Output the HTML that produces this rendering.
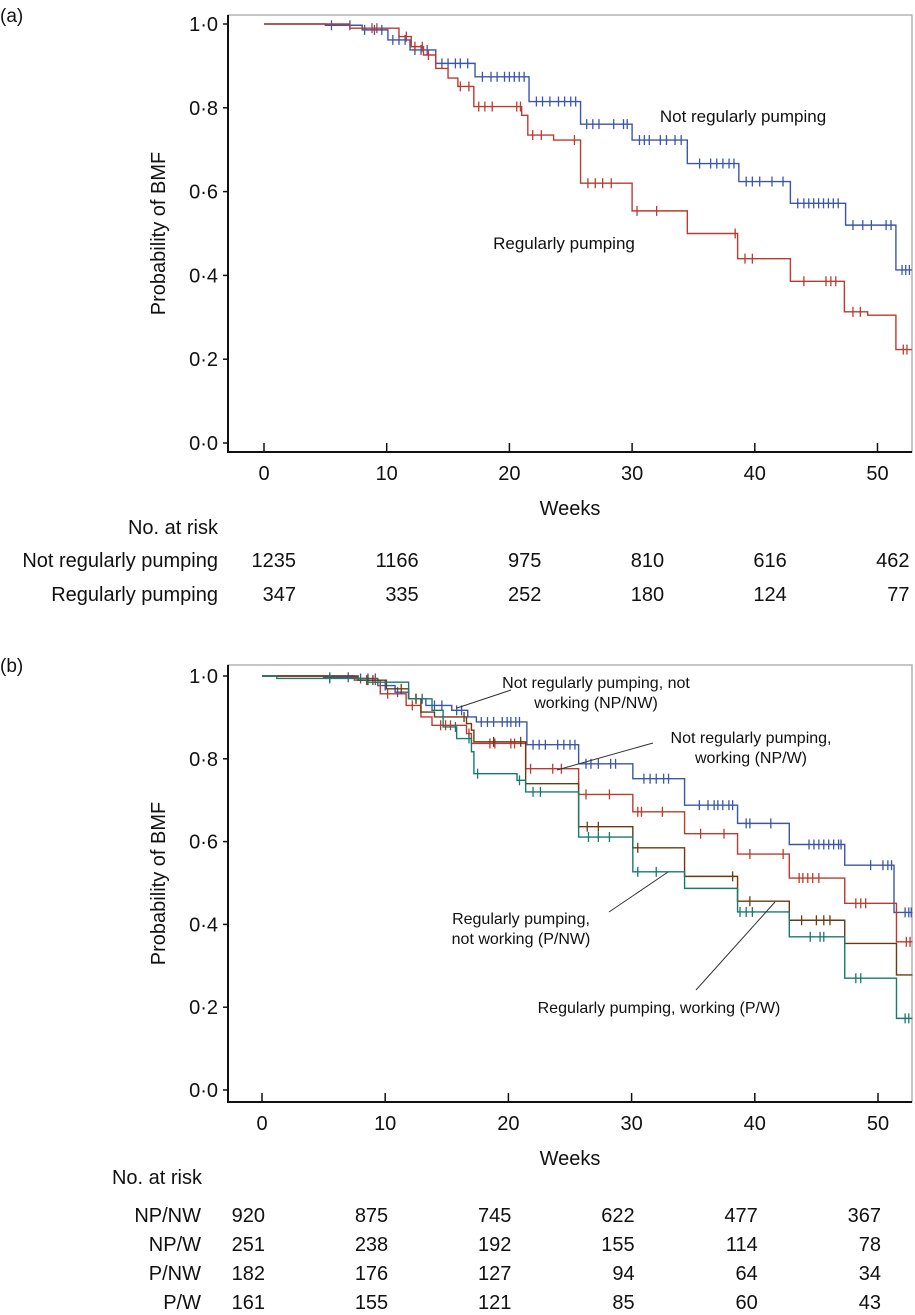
<!DOCTYPE html>
<html><head><meta charset="utf-8">
<style>
html,body{margin:0;padding:0;background:#fff;}
svg{display:block;font-family:"Liberation Sans",Arial,sans-serif;}
</style></head>
<body>
<svg id="fig" width="915" height="1315" viewBox="0 0 915 1315" xmlns="http://www.w3.org/2000/svg"></svg>
<script>
// ---------- Panel (a) data ----------
const weekTicks = [0,10,20,30,40,50];
const probTicks = [0,0.2,0.4,0.6,0.8,1.0];
const probTickLabels = ["0·0","0·2","0·4","0·6","0·8","1·0"];
const aNPTimes = [5,8,10.1,11.9,14,17.2,21.6,25.8,30,34.5,38.7,42.9,47.4,51.5];
const aNPSurv  = [0.997,0.986,0.962,0.938,0.906,0.874,0.815,0.761,0.723,0.667,0.624,0.572,0.52,0.413];
const aNPCens  = [5.5,7,8.2,9,9.6,10.5,11,11.5,12.3,12.8,13.3,14.5,15,15.6,16,16.6,17.8,18.5,19,19.6,20,20.4,20.8,21.2,22.2,22.7,23.3,24,24.5,25,25.4,26.3,26.8,27.3,28.5,29.3,29.6,30.6,31,31.4,32.3,32.8,33.5,34,35.5,36.4,36.9,37.4,37.9,38.3,39.3,39.8,40.4,41.4,42.3,43.5,44,44.4,44.8,45.2,45.6,46,46.4,46.8,48,48.8,49.5,50.7,51.1,52,52.3,52.6];
const aPTimes = [7,11,12,13,14,15,15.8,17.1,21,21.5,23.6,25.8,30,34.5,38.6,42.9,47.3,49.2,51.5];
const aPSurv  = [0.99,0.97,0.946,0.926,0.894,0.871,0.851,0.803,0.782,0.735,0.723,0.62,0.554,0.5,0.44,0.386,0.313,0.305,0.223];
const aPCens  = [8.8,9.2,11.6,12.3,12.9,13.4,16,16.7,17.5,18,18.6,20.6,20.9,21.9,22.6,25.3,26.4,27,27.6,28.3,30.4,32,38.4,39.2,39.8,44,45.8,46.2,46.6,48,48.6,52.1,52.4];
const aRiskNP = ["1235","1166","975","810","616","462"];
const aRiskP  = ["347","335","252","180","124","77"];

// ---------- Panel (b) data ----------
const bNPNWTimes=[5,7.7,9.4,10.8,11.9,13.3,15.4,16.7,17.4,21.5,25.7,30.1,34.3,38.6,42.8,47.3,51.3];
const bNPNWSurv =[0.997,0.994,0.977,0.961,0.945,0.929,0.917,0.901,0.889,0.834,0.788,0.752,0.688,0.644,0.593,0.543,0.429];
const bNPNWCens =[5.5,7,8,8.6,9.2,10,11,12.5,13,14,14.6,15.8,16.2,17.8,18.3,18.8,19.5,19.9,20.2,20.6,20.9,22,22.5,23,24,24.5,25,25.4,26.3,26.7,27.3,28.3,28.7,31,31.5,32,32.6,33,35.5,36.2,36.7,37,37.4,37.9,38.2,39.3,39.6,41.3,44.4,44.8,45.2,45.6,46,46.4,46.8,47,49.4,50.4,50.8,51.1,52.2,52.5,52.7];
const bNPWTimes=[7.5,9.6,11.7,12.9,13.8,16.6,17,21.4,25.7,30.1,34.3,38.6,42.8,47.3,51.5];
const bNPWSurv =[0.99,0.957,0.929,0.901,0.881,0.861,0.837,0.776,0.714,0.672,0.619,0.57,0.512,0.451,0.358];
const bNPWCens =[8.5,9.2,10.2,12.2,14.5,14.9,15.3,16.8,18.5,18.9,20.2,20.5,21.8,23.6,24.3,26.3,28.2,30.5,30.8,32.5,35.6,37.5,39.6,42.3,43.6,43.9,44.3,44.7,45.2,48.2,48.6,49,52.3,52.6];
const bPNWTimes=[7.8,10.1,11.9,12.9,14,16.6,17,17.2,21.4,25.7,30.1,34.3,38.6,42.8,47.3,51.5];
const bPNWSurv =[0.99,0.969,0.945,0.913,0.901,0.885,0.869,0.841,0.74,0.636,0.585,0.516,0.456,0.41,0.354,0.278];
const bPNWCens =[8.6,9,11.3,12.5,16.4,18.8,21,26.4,27.3,30.5,38.2,39.6,43.8,45,45.6,46.1];
const bPWTimes=[1.2,8.5,11.9,13.8,14.7,15.8,17,17.2,20.7,21.4,25.7,30.1,34.3,38.6,42.8,47.3,51.5];
const bPWSurv =[0.994,0.985,0.945,0.917,0.877,0.849,0.817,0.764,0.748,0.72,0.611,0.527,0.487,0.43,0.37,0.27,0.173];
const bPWCens =[5.5,15.7,16.8,17.5,20.9,22,22.6,26.5,27.3,28.2,30.5,32,38.8,39.3,39.8,44.5,45.3,45.6,48.2,48.6,52.2,52.5];
const bRiskNPNW=["920","875","745","622","477","367"];
const bRiskNPW =["251","238","192","155","114","78"];
const bRiskPNW =["182","176","127","94","64","34"];
const bRiskPW  =["161","155","121","85","60","43"];

const NS="http://www.w3.org/2000/svg";
const svg=document.getElementById('fig');
function el(tag,attrs,parent){const e=document.createElementNS(NS,tag);for(const k in attrs)e.setAttribute(k,attrs[k]);(parent||svg).appendChild(e);return e;}
function txt(s,attrs,parent){const e=el('text',attrs,parent);e.textContent=s;return e;}

function makePanel(P){
  const g=el('g',{});
  
  
  const xs=w=>P.x0+P.kx*w;
  const ys=p=>P.y0-P.ky*p;
  // frame
  const fr=el('rect',{x:P.left,y:P.top,width:P.right-P.left,height:P.bottom-P.top,fill:'none',stroke:'#a8a8a8','stroke-width':1.3},g);
  
  
  const ax=el('path',{d:`M${P.left},${P.top} V${P.bottom} H${P.right}`,fill:'none',stroke:'#111','stroke-width':2},g);
  
  
  // y ticks
  probTicks.forEach((p,i)=>{
    el('line',{x1:P.left-5,x2:P.left,y1:ys(p),y2:ys(p),stroke:'#111','stroke-width':1.5},g);
    const t=txt(probTickLabels[i],{x:P.left-10,y:ys(p)+7,'text-anchor':'end','font-size':20,fill:'#111'},g);
    
    
  });
  weekTicks.forEach(w=>{
    el('line',{x1:xs(w),x2:xs(w),y1:P.bottom,y2:P.bottom-9,stroke:'#111','stroke-width':1.5},g);
    const t=txt(String(w),{x:xs(w),y:P.bottom+28,'text-anchor':'middle','font-size':20,fill:'#111'},g);
    
    
  });
  const yt=txt('Probability of BMF',{x:0,y:0,transform:`translate(${P.left-63},${(P.top+P.bottom)/2}) rotate(-90)`,'text-anchor':'middle','font-size':20,fill:'#111'},g);
  
  
  const xt=txt('Weeks',{x:(P.left+P.right)/2,y:P.bottom+63,'text-anchor':'middle','font-size':20,fill:'#111'},g);
  
  
  const pl=txt(P.label,{x:0,y:P.top+7,'font-size':19,fill:'#111'},g);
  
  
  // series
  P.series.forEach(s=>{
    const sg=el('g',{},g);
    
    
    let d=`M${xs(0)},${ys(1)}`;
    s.times.forEach((t,i)=>{d+=` H${xs(t)} V${ys(s.surv[i])}`;});
    d+=` H${xs(52.8)}`;
    const path=el('path',{d:d,fill:'none',stroke:s.color,'stroke-width':1.4},sg);
    
    
    s.cens.forEach(c=>{
      let v=1;s.times.forEach((t,i)=>{if(t<=c)v=s.surv[i];});
      const m=el('line',{x1:xs(c),x2:xs(c),y1:ys(v)-5,y2:ys(v)+5,stroke:s.color,'stroke-width':1.3},sg);
      
      
    });
  });
  // risk table
  const nr=txt('No. at risk',{x:P.riskHeadX,y:P.riskHeadY,'text-anchor':'end','font-size':20,fill:'#111'},g);
  
  
  P.risk.forEach((r,ri)=>{
    const y=P.riskY0+ri*P.riskDy;
    const l=txt(r.label,{x:P.riskLabelX,y:y,'text-anchor':'end','font-size':20,fill:'#111'},g);
    
    
    r.values.forEach((v,i)=>{
      const t=txt(v,{x:xs(weekTicks[i])+P.riskOff,y:y,'text-anchor':'end','font-size':20,fill:'#111'},g);
      
      
    });
  });
  return {g,xs,ys};
}

const BLUE='#3b56a6',RED='#bd3a2f',BROWN='#6a3b12',TEAL='#197a6c';

const A=makePanel({name:'panel-a',label:'(a)',left:228,right:912,top:15,bottom:452,
  x0:264,kx:12.27,y0:443,ky:419,
  series:[{name:'not-regularly-pumping',times:aNPTimes,surv:aNPSurv,cens:aNPCens,color:BLUE},
          {name:'regularly-pumping',times:aPTimes,surv:aPSurv,cens:aPCens,color:RED}],
  riskHeadX:218,riskHeadY:534,riskLabelX:218,riskY0:567,riskDy:34,riskOff:32,
  risk:[{label:'Not regularly pumping',values:aRiskNP},{label:'Regularly pumping',values:aRiskP}]});
let t1=txt('Not regularly pumping',{x:743,y:122,'text-anchor':'middle','font-size':17,fill:'#111'},A.g);


let t2=txt('Regularly pumping',{x:564,y:249,'text-anchor':'middle','font-size':17,fill:'#111'},A.g);



const B=makePanel({name:'panel-b',label:'(b)',left:228,right:912,top:665,bottom:1102,
  x0:262,kx:12.32,y0:1090,ky:414,
  series:[{name:'np-nw',times:bNPNWTimes,surv:bNPNWSurv,cens:bNPNWCens,color:BLUE},
          {name:'np-w',times:bNPWTimes,surv:bNPWSurv,cens:bNPWCens,color:RED},
          {name:'p-nw',times:bPNWTimes,surv:bPNWSurv,cens:bPNWCens,color:BROWN},
          {name:'p-w',times:bPWTimes,surv:bPWSurv,cens:bPWCens,color:TEAL}],
  riskHeadX:202,riskHeadY:1184,riskLabelX:201,riskY0:1222,riskDy:29,riskOff:3,
  risk:[{label:'NP/NW',values:bRiskNPNW},{label:'NP/W',values:bRiskNPW},{label:'P/NW',values:bRiskPNW},{label:'P/W',values:bRiskPW}]});

const ann=[
  {name:'annotation-np-nw',lines:['Not regularly pumping, not','working (NP/NW)'],x:596,y:688,l:[457,708,511,690]},
  {name:'annotation-np-w',lines:['Not regularly pumping,','working (NP/W)'],x:751,y:743,l:[557,770,653,743]},
  {name:'annotation-p-nw',lines:['Regularly pumping,','not working (P/NW)'],x:521,y:924,l:[668,872,609,912]},
  {name:'annotation-p-w',lines:['Regularly pumping, working (P/W)'],x:659,y:1013,l:[775,902,696,990]}
];
ann.forEach(a=>{
  const g=el('g',{},B.g);
  
  
  a.lines.forEach((s,i)=>txt(s,{x:a.x,y:a.y+i*20,'text-anchor':'middle','font-size':16,fill:'#111'},g));
  el('line',{x1:a.l[0],y1:a.l[1],x2:a.l[2],y2:a.l[3],stroke:'#333','stroke-width':1},g);
});
</script>
</body></html>
